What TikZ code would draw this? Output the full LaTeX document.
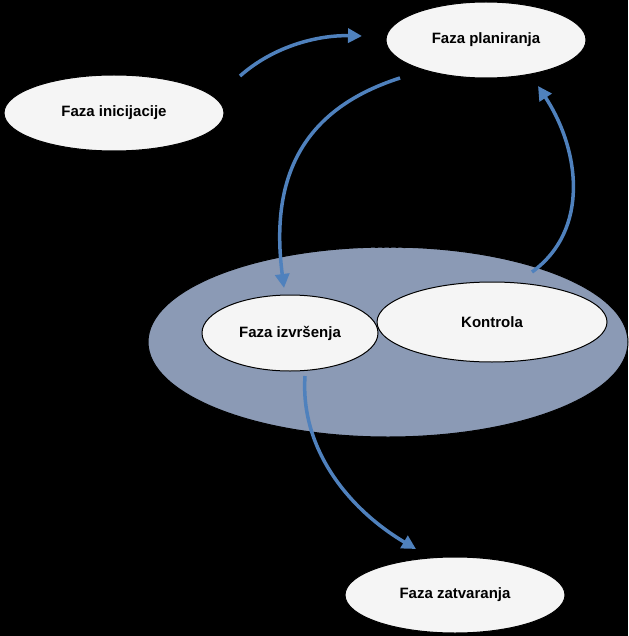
\documentclass[tikz,border=0pt]{standalone}
\usepackage{fontspec}
\setmainfont{Liberation Sans}
\usetikzlibrary{shapes.geometric,arrows.meta}
\definecolor{arr}{RGB}{79,129,189}
\definecolor{big}{RGB}{139,154,181}
\tikzset{ph/.style={ellipse,draw=black,line width=1pt,fill=gray!8,font=\bfseries\fontsize{15}{18}\selectfont,inner sep=0pt},
 flow/.style={arr,line width=3.5pt,-{Triangle[length=14pt,width=14pt]}}}
\begin{document}
\begin{tikzpicture}[x=1pt,y=-1pt]
\fill[black] (0,0) rectangle (628,636);
\useasboundingbox (0,0) rectangle (628,636);
\node[ellipse,draw=black,line width=1pt,fill=big,minimum width=480,minimum height=190] (K) at (388,342) {};
\node[font=\bfseries\fontsize{15}{18}\selectfont] (KL) at (388,243) {KONTROLA};
\node[ph,minimum width=220,minimum height=76] (I) at (114,113) {Faza inicijacije};
\node[ph,minimum width=200,minimum height=76] (P) at (486,40) {Faza planiranja};
\node[ph,minimum width=176,minimum height=76] (E) at (290,333) {Faza izvršenja};
\node[ph,minimum width=230,minimum height=80] (C) at (492,322) {\hspace{0pt}Kontrola};
\node[ph,minimum width=220,minimum height=76] (Z) at (455,595) {Faza zatvaranja};
\coordinate (a1) at (240,76); \coordinate (b1) at (362,36);
\coordinate (a2) at (400,78); \coordinate (b2) at (284,288);
\coordinate (a3) at (532,272); \coordinate (b3) at (538,86);
\coordinate (a4) at (305,376); \coordinate (b4) at (416,549);
\draw[flow] (a1) .. controls (275,45) and (320,35) .. (b1);
\draw[flow] (a2) .. controls (300,110) and (270,180) .. (b2);
\draw[flow] (a3) .. controls (590,230) and (580,150) .. (b3);
\draw[flow] (a4) .. controls (300,450) and (350,510) .. (b4);
\end{tikzpicture}
\end{document}
